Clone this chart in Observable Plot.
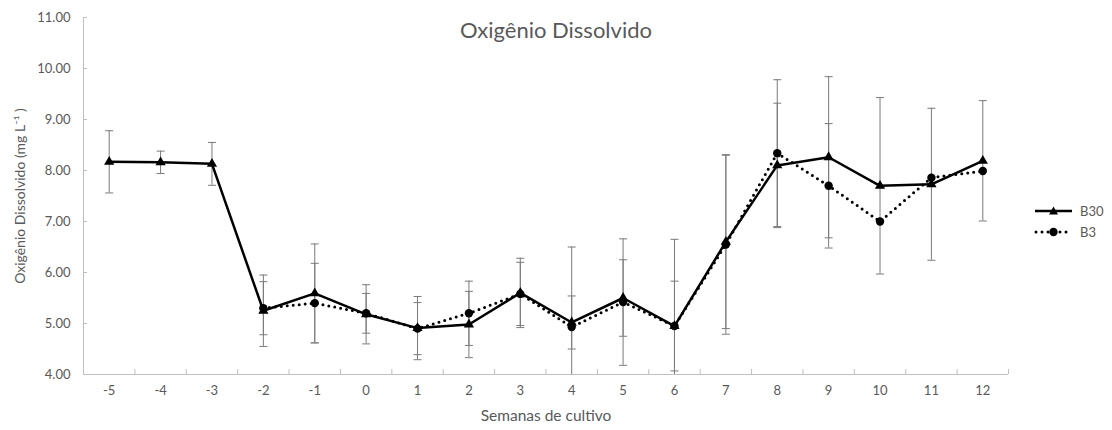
<!DOCTYPE html>
<html>
<head>
<meta charset="utf-8">
<script src="https://cdn.jsdelivr.net/npm/d3@7"></script>
<script src="https://cdn.jsdelivr.net/npm/@observablehq/plot@0.6"></script>
<style>
  html, body { margin: 0; padding: 0; background: white; }
  #wrap { position: relative; width: 1112px; height: 430px; font-family: Lato, "Open Sans", sans-serif; color: #595959; }
  #title { position: absolute; left: 0; top: 16px; width: 1112px; text-align: center; font-size: 22px; line-height: 28px; color: #595959; }
  #legend { position: absolute; left: 1032px; top: 200px; font-size: 13px; color: #595959; }
  .row { display: flex; align-items: center; height: 21px; }
  .row svg { margin-right: 6px; }
</style>
</head>
<body>
<div id="wrap">
  <div id="chart"></div>
  <div id="title">Oxigênio Dissolvido</div>
  <div id="legend">
    <div class="row"><svg width="42" height="12"><line x1="3" y1="6" x2="40" y2="6" stroke="black" stroke-width="2.5"/><path d="M21.5,1.5 L26,9.5 L17,9.5 Z" fill="black"/></svg>B30</div>
    <div class="row"><svg width="42" height="12"><line x1="4" y1="6" x2="40" y2="6" stroke="black" stroke-width="3" stroke-dasharray="0 6" stroke-linecap="round"/><circle cx="21.5" cy="6" r="4.2" fill="black"/></svg>B3</div>
  </div>
</div>
<script>
const weeks = [-5, -4, -3, -2, -1, 0, 1, 2, 3, 4, 5, 6, 7, 8, 9, 10, 11, 12];
const b30 = [8.17, 8.16, 8.13, 5.25, 5.59, 5.18, 4.91, 4.98, 5.60, 5.02, 5.50, 4.95, 6.60, 8.10, 8.26, 7.70, 7.73, 8.19];
const b30sd = [0.61, 0.22, 0.42, 0.70, 0.97, 0.58, 0.62, 0.65, 0.68, 0.52, 0.75, 0.88, 1.70, 1.22, 1.58, 1.73, 1.49, 1.18];
const b3 = [null, null, null, 5.30, 5.40, 5.20, 4.90, 5.20, 5.58, 4.93, 5.42, 4.95, 6.55, 8.34, 7.70, 7.00, 7.86, 7.99];
const b3sd = [null, null, null, 0.52, 0.78, 0.39, 0.51, 0.63, 0.62, 1.57, 1.24, 1.70, 1.76, 1.44, 1.22, null, null, null];
const yTicks = [4, 5, 6, 7, 8, 9, 10, 11];
const xLabel = "Semanas de cultivo";
const yLabel = "Oxigênio Dissolvido (mg L\u207B\u00B9 )";

const rowsB30 = weeks.map((w, i) => ({week: w, v: b30[i], sd: b30sd[i]}));
const rowsB3 = weeks.map((w, i) => ({week: w, v: b3[i], sd: b3sd[i]})).filter(d => d.v != null);
const errRows = [...rowsB30, ...rowsB3].filter(d => d.sd != null);
const capRows = errRows.flatMap(d => [{week: d.week, y: d.v - d.sd}, {week: d.week, y: d.v + d.sd}]);
const boundaries = weeks.map(w => w + 0.5);

const W = 1112, H = 430, mL = 83, mR = 104, mT = 17, mB = 56;
const plotW = W - mL - mR, plotH = H - mT - mB;

const capSymbol = {draw(ctx) { ctx.moveTo(-4, 0); ctx.lineTo(4, 0); }};

const chart = Plot.plot({
  width: W, height: H,
  marginLeft: mL, marginRight: mR, marginTop: mT, marginBottom: mB,
  style: {fontFamily: "Lato, 'Open Sans', sans-serif", fontSize: "13px", color: "#595959", background: "white"},
  x: {type: "linear", domain: [weeks[0] - 0.5, weeks[weeks.length - 1] + 0.5]},
  y: {domain: [yTicks[0], yTicks[yTicks.length - 1]]},
  marks: [
    Plot.axisY(yTicks, {tickSize: 0, tickPadding: 13, tickFormat: d => d.toFixed(2), label: null, fill: "#595959"}),
    Plot.axisX(weeks, {tickSize: 0, tickPadding: 11, tickFormat: d => String(d), label: null, fill: "#595959"}),
    Plot.text([xLabel], {frameAnchor: "bottom", dy: 46, fontSize: 15.5, fill: "#595959"}),
    Plot.text([yLabel], {frameAnchor: "left", textAnchor: "middle", dx: -63, rotate: -90, fontSize: 14, fill: "#595959"}),
    Plot.tickX(boundaries, {x: d => d, stroke: "#bfbfbf", insetTop: plotH - 5}),
    Plot.tickY(yTicks, {y: d => d, stroke: "#bfbfbf", insetRight: plotW - 4}),
    Plot.ruleY([yTicks[0]], {stroke: "#bfbfbf"}),
    Plot.ruleX([weeks[0] - 0.5], {stroke: "#bfbfbf"}),
    Plot.ruleX(errRows, {x: "week", y1: d => d.v - d.sd, y2: d => d.v + d.sd, stroke: "#7a7a7a", strokeWidth: 1, clip: true}),
    Plot.dot(capRows.filter(d => d.y >= yTicks[0]), {x: "week", y: "y", symbol: capSymbol, stroke: "#7a7a7a", strokeWidth: 1, fill: "none", r: 4}),
    Plot.line(rowsB3, {x: "week", y: "v", stroke: "black", strokeWidth: 3, strokeDasharray: "0 6", strokeLinecap: "round"}),
    Plot.line(rowsB30, {x: "week", y: "v", stroke: "black", strokeWidth: 2.5}),
    Plot.dot(rowsB3, {x: "week", y: "v", fill: "black", r: 4.2}),
    Plot.dot(rowsB30, {x: "week", y: "v", symbol: "triangle", fill: "black", r: 3.8})
  ]
});
document.getElementById("chart").appendChild(chart);
</script>
</body>
</html>
